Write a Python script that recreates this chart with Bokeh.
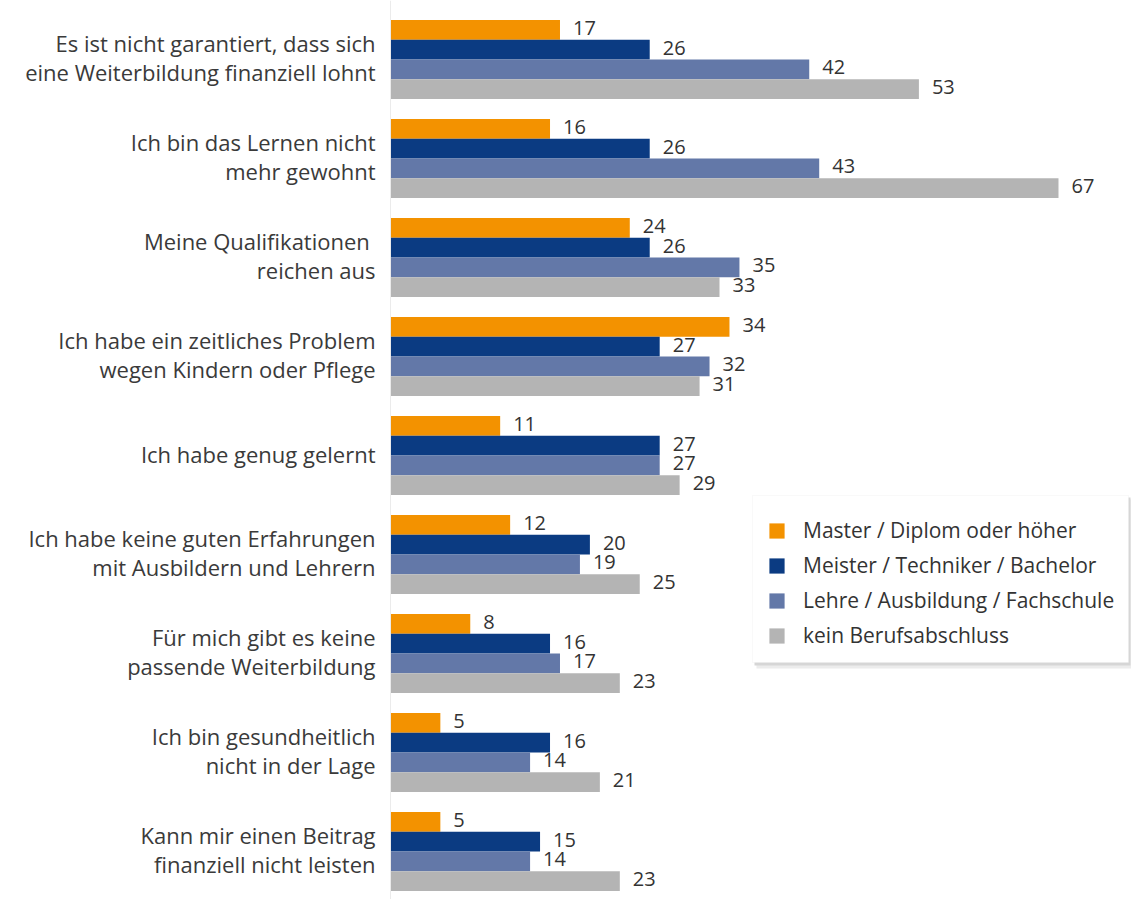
from bokeh.plotting import figure
from bokeh.models import Range1d, ColumnDataSource, Legend, LegendItem, Span, BoxAnnotation
from bokeh.embed import file_html
from bokeh.resources import INLINE
from bokeh.core.properties import value

categories = [
    "Es ist nicht garantiert, dass sich\neine Weiterbildung finanziell lohnt",
    "Ich bin das Lernen nicht\nmehr gewohnt",
    "Meine Qualifikationen \nreichen aus",
    "Ich habe ein zeitliches Problem\nwegen Kindern oder Pflege",
    "Ich habe genug gelernt",
    "Ich habe keine guten Erfahrungen\nmit Ausbildern und Lehrern",
    "Für mich gibt es keine\npassende Weiterbildung",
    "Ich bin gesundheitlich\nnicht in der Lage",
    "Kann mir einen Beitrag\nfinanziell nicht leisten",
]
series_names = [
    "Master / Diplom oder höher",
    "Meister / Techniker / Bachelor",
    "Lehre / Ausbildung / Fachschule",
    "kein Berufsabschluss",
]
master = [17, 16, 24, 34, 11, 12, 8, 5, 5]
meister = [26, 26, 26, 27, 27, 20, 16, 16, 15]
lehre = [42, 43, 35, 32, 27, 19, 17, 14, 14]
kein = [53, 67, 33, 31, 29, 25, 23, 21, 23]
series_values = [master, meister, lehre, kein]
colors = ["#F39200", "#0B3B82", "#6378A8", "#B4B4B4"]

FONT = "Open Sans"
W, H = 1131, 899
PX_PER_UNIT = 9.97
X0_PX = 390
PX_PER_GROUP = 99.0
x_start = -X0_PX / PX_PER_UNIT
x_end = (W - X0_PX) / PX_PER_UNIT
y_top = -59.0 / PX_PER_GROUP
y_bottom = y_top + H / PX_PER_GROUP


def px_to_x(px):
    return (px - X0_PX) / PX_PER_UNIT


def px_to_y(py):
    return y_top + py / PX_PER_GROUP


p = figure(width=W, height=H, x_range=Range1d(x_start, x_end),
           y_range=Range1d(y_bottom, y_top), output_backend="svg",
           toolbar_location=None, min_border=0)
p.xaxis.visible = False
p.yaxis.visible = False
p.xgrid.visible = False
p.ygrid.visible = False
p.outline_line_color = None
p.background_fill_color = "white"
p.border_fill_color = "white"

p.add_layout(Span(location=0, dimension="height", line_color="#ebebeb", line_width=1))

offsets = [-0.3, -0.1, 0.1, 0.3]
renderers = []
for k, vals in enumerate(series_values):
    ys = [i + offsets[k] for i in range(len(categories))]
    src = ColumnDataSource(dict(y=ys, v=vals, t=[str(v) for v in vals]))
    r = p.hbar(y="y", left=0, right="v", height=0.2, source=src,
               fill_color=colors[k], line_color=None)
    renderers.append(r)
    p.text(x="v", y="y", text="t", source=src, x_offset=13, y_offset=-2,
           text_baseline="middle", text_align="left",
           text_font=value(FONT), text_font_size="20px", text_color="#333333")

lab_src = ColumnDataSource(dict(x=[-1.5] * len(categories), y=list(range(len(categories))), t=categories))
p.text(x="x", y="y", text="t", source=lab_src, text_align="right", text_baseline="middle",
       y_offset=-2, text_line_height=0.94, text_font=value(FONT), text_font_size="22px",
       text_color="#3a3a3a")

# legend frame with shadow
p.add_layout(BoxAnnotation(left=px_to_x(756), right=px_to_x(1132), top=px_to_y(499), bottom=px_to_y(668),
                           fill_color="#ececec", fill_alpha=1, line_color=None, level="annotation"))
p.add_layout(BoxAnnotation(left=px_to_x(754), right=px_to_x(1130), top=px_to_y(497), bottom=px_to_y(665),
                           fill_color="#d6d6d6", fill_alpha=1, line_color=None, level="annotation"))
p.add_layout(BoxAnnotation(left=px_to_x(752), right=px_to_x(1128), top=px_to_y(495), bottom=px_to_y(662),
                           fill_color="white", fill_alpha=1, line_color="#ececec", line_width=1,
                           level="annotation"))

legend = Legend(items=[LegendItem(label=series_names[k], renderers=[renderers[k]]) for k in range(4)],
                location=(767, H - 649), margin=0, padding=0, spacing=7,
                glyph_width=19, glyph_height=19, label_height=20, label_standoff=17,
                label_text_font=FONT, label_text_font_size="21px", label_text_color="#333333",
                border_line_color=None, background_fill_alpha=0)
p.add_layout(legend)

open("out.html", "w").write(file_html(p, INLINE))
